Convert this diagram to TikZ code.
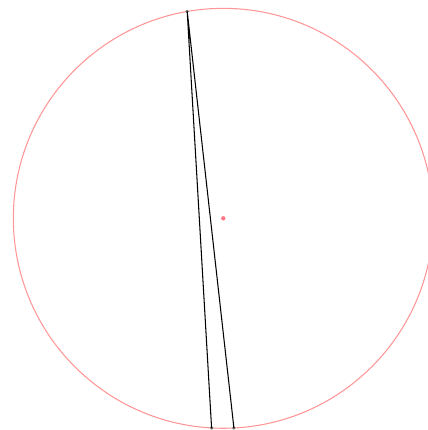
\documentclass[tikz,border=0pt]{standalone}
\usetikzlibrary{calc}
\begin{document}
\begin{tikzpicture}[x=0.02cm,y=-0.02cm,
  circ/.style={draw={rgb,255:red,255;green,150;blue,150},line width=0.6pt},
  seg/.style={draw=black,line width=0.6pt},
  vtx/.style={circle,fill=black!60,inner sep=0pt,minimum size=2pt},
  ctr/.style={circle,fill={rgb,255:red,255;green,120;blue,130},inner sep=0pt,minimum size=2.5pt}]
\useasboundingbox (0,0) rectangle (427,430);
\coordinate (O) at (223.3,218.3);
\draw[circ] (O) circle[radius=4.2cm];
\node[ctr] (c) at (O) {};
\node[vtx] (A) at ($(O)+(99.9:4.2cm)$) {};
\node[vtx] (B) at ($(O)+(266.8:4.2cm)$) {};
\node[vtx] (C) at ($(O)+(272.9:4.2cm)$) {};
\draw[seg] (A.center) -- (B.center) (A.center) -- (C.center);
\end{tikzpicture}
\end{document}
